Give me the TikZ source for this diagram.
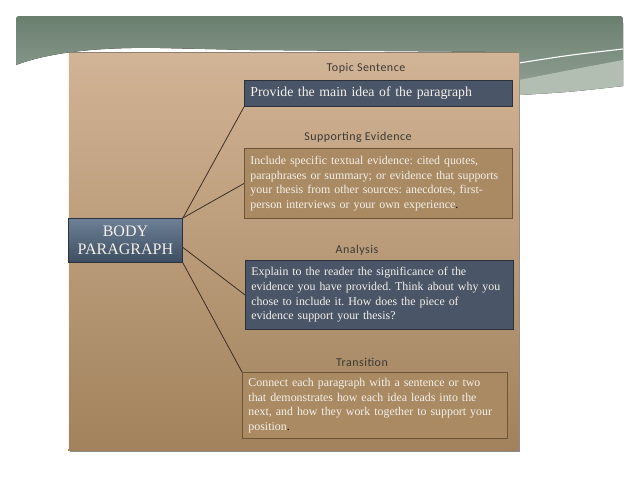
\documentclass[tikz,border=0pt]{standalone}
\usepackage{fontspec}
\setmainfont{Liberation Serif}
\newfontfamily\labfont[LetterSpace=4]{Carlito}
\definecolor{bandtop}{HTML}{6B7F6F}
\definecolor{bandbot}{HTML}{92A294}
\definecolor{bandlight}{HTML}{B3BEB2}
\definecolor{paneltop}{HTML}{D2B496}
\definecolor{panelbot}{HTML}{A1825C}
\definecolor{paneledge}{HTML}{8E826F}
\definecolor{darkfill}{HTML}{4A5567}
\definecolor{darkedge}{HTML}{2C323C}
\definecolor{brownfill}{HTML}{A98A63}
\definecolor{brownedge}{HTML}{6C5436}
\definecolor{bodytop}{HTML}{6D8095}
\definecolor{bodybot}{HTML}{3D4E62}
\definecolor{labgray}{HTML}{3A3936}
\definecolor{boxtext}{HTML}{F4F0EA}
\definecolor{linecol}{HTML}{3B2F24}
\begin{document}
\frenchspacing
\begin{tikzpicture}[x=1pt,y=-1pt,
  lab/.style={font=\labfont\fontsize{12}{14}\selectfont, text=labgray, inner sep=0pt},
  boxbase/.style={anchor=north west, line width=0.9pt, inner xsep=6pt, inner ysep=0pt, align=left, text=boxtext},
  darkbox/.style={boxbase, draw=darkedge, fill=darkfill},
  brownbox/.style={boxbase, draw=brownedge, fill=brownfill},
  small/.style={font=\fontsize{11.9}{14.6}\selectfont},
  conn/.style={draw=linecol, line width=0.8pt}]
\useasboundingbox (0,0) rectangle (638,479);
\fill[white] (0,0) rectangle (638,479);
% top band
\fill[top color=bandtop, bottom color=bandbot]
  (16,65) .. controls (50,52) and (100,47) .. (160,48) -- (250,50) -- (519,52)
  -- (519,95) .. controls (570,92) .. (623,86) -- (623,24) .. controls (623,16) .. (615,16)
  -- (24,16) .. controls (16,16) .. (16,24) -- cycle;
\fill[bandlight] (519,80) .. controls (570,70) .. (623,60) -- (623,86) .. controls (570,92) .. (519,95) -- cycle;
\draw[white, line width=1.1pt] (519,63) .. controls (570,55) .. (623,49);
% panel
\fill[black!45] (70,54) rectangle (520,452);
\shade[top color=paneltop, bottom color=panelbot] (68,52) rectangle (519,450);
\draw[paneledge, line width=0.6pt] (68,52) -- (519,52);
\draw[white!85!paneltop, line width=0.8pt] (68.4,53) -- (68.4,449);
% labels
\node[lab] (l1) at (366,68) {Topic Sentence};
\node[lab] (l2) at (358,137) {Supporting Evidence};
\node[lab] (l3) at (357,250) {Analysis};
\node[lab] (l4) at (362,362) {Transition};
% boxes
\node[darkbox, minimum width=268pt, minimum height=26pt, text width=256pt,
  font=\fontsize{13.8}{16}\selectfont] (topic) at (244,80)
  {Provide the main idea of the paragraph};
\node[brownbox, minimum width=268pt, minimum height=70pt, text width=256pt, small] (se) at (244,148)
  {Include specific textual evidence: cited quotes,\\
   paraphrases or summary; or evidence that supports\\
   your thesis from other sources: anecdotes, first-\\
   person interviews or your own experience\textcolor{black}{.}};
\node[darkbox, minimum width=268pt, minimum height=69pt, text width=256pt, small] (an) at (245,260)
  {Explain to the reader the significance of the\\
   evidence you have provided. Think about why you\\
   chose to include it. How does the piece of\\
   evidence support your thesis?};
\node[brownbox, minimum width=265pt, minimum height=66pt, text width=253pt, small] (tr) at (242,372)
  {Connect each paragraph with a sentence or two\\
   that demonstrates how each idea leads into the\\
   next, and how they work together to support your\\
   position\textcolor{black}{.}};
\node[anchor=north west, draw=darkedge, line width=0.9pt, top color=bodytop, bottom color=bodybot,
  minimum width=114pt, minimum height=44pt, inner sep=0pt, align=center, text=boxtext,
  font=\fontsize{16}{18}\selectfont] (body) at (68,218) {BODY\\PARAGRAPH};
% connectors
\draw[conn] (body.north east) -- (topic.south west);
\draw[conn] (body.north east) -- (se.west);
\draw[conn] ([yshift=-7pt]body.east) -- (an.west);
\draw[conn] (body.south east) -- (tr.north west);
\end{tikzpicture}
\end{document}
